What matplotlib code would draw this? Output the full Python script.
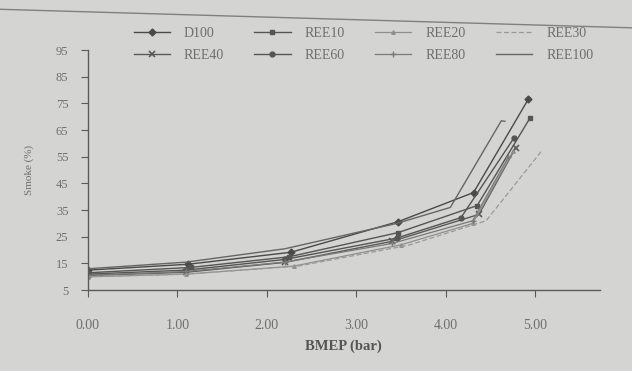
import matplotlib.pyplot as plt
from matplotlib.lines import Line2D

plt.rcParams['font.family'] = ['Liberation Serif', 'DejaVu Serif']

# BMEP (bar) and smoke (%) per fuel
x_d100 = [0.0, 1.12, 2.27, 3.47, 4.31, 4.92]
y_d100 = [12.5, 14.7, 19.2, 30.7, 41.6, 76.5]
x_ree10 = [0.0, 1.15, 2.25, 3.47, 4.35, 4.94]
y_ree10 = [11.5, 13.5, 17.5, 26.6, 36.7, 69.5]
x_ree20 = [0.0, 1.10, 2.30, 3.50, 4.30, 4.75]
y_ree20 = [10.0, 11.0, 14.0, 22.0, 30.0, 57.0]
x_ree30 = [0.0, 1.10, 2.35, 3.58, 4.45, 5.08]
y_ree30 = [10.0, 11.0, 14.0, 21.8, 31.0, 57.6]
x_ree40 = [0.0, 1.10, 2.20, 3.40, 4.37, 4.78]
y_ree40 = [10.5, 11.7, 15.4, 23.3, 33.4, 58.4]
x_ree60 = [0.0, 1.10, 2.20, 3.45, 4.17, 4.76]
y_ree60 = [11.0, 12.5, 16.5, 24.5, 32.2, 62.0]
x_ree80 = [0.0, 1.10, 2.20, 3.40, 4.30, 4.70]
y_ree80 = [10.5, 12.0, 15.5, 22.5, 31.0, 55.0]
x_ree100 = [0.0, 1.10, 2.20, 3.45, 4.05, 4.62, 4.66]
y_ree100 = [13.0, 15.5, 20.5, 30.0, 36.0, 68.5, 68.3]

x_ticks = [0, 1, 2, 3, 4, 5]
x_labels = ['0.00', '1.00', '2.00', '3.00', '4.00', '5.00']
y_ticks = [5, 15, 25, 35, 45, 55, 65, 75, 85, 95]

bg = '#d4d4d2'
ink = '#6e6e6e'

fig = plt.figure(figsize=(6.32, 3.71), dpi=100, facecolor=bg)
ax = fig.add_axes([0.139, 0.218, 0.81, 0.647], facecolor=bg)

# series: (label, x, y, style)
series = [
    ('D100', x_d100, y_d100, dict(color='#4a4a4a', marker='D', ms=3.5, lw=1.0)),
    ('REE40', x_ree40, y_ree40, dict(color='#5a5a5a', marker='x', ms=4, mew=1.2, lw=1.0)),
    ('REE10', x_ree10, y_ree10, dict(color='#555555', marker='s', ms=3.5, lw=1.0)),
    ('REE60', x_ree60, y_ree60, dict(color='#555555', marker='o', ms=3.5, lw=1.0)),
    ('REE20', x_ree20, y_ree20, dict(color='#8f8f8f', marker='^', ms=2.5, lw=0.9)),
    ('REE80', x_ree80, y_ree80, dict(color='#7a7a7a', marker='+', ms=4, lw=0.9)),
    ('REE30', x_ree30, y_ree30, dict(color='#9a9a9a', marker='', lw=0.9, ls=(0, (4, 2)))),
    ('REE100', x_ree100, y_ree100, dict(color='#666666', marker='', lw=1.0)),
]

handles = []
for name, xs, ys, st in series:
    ax.plot(xs, ys, **st)
    handles.append(Line2D([], [], label=name, **st))

ax.set_xlim(0, 5.72)
ax.set_ylim(5, 95)
ax.set_xticks(x_ticks)
ax.set_xticklabels(x_labels)
ax.set_yticks(y_ticks)

for s in ['top', 'right']:
    ax.spines[s].set_visible(False)
for s in ['left', 'bottom']:
    ax.spines[s].set_color('#5a5a5a')
    ax.spines[s].set_linewidth(1.0)

ax.tick_params(axis='x', colors='#5a5a5a', labelcolor=ink, labelsize=10, length=5, pad=16)
ax.tick_params(axis='y', colors='#5a5a5a', labelcolor=ink, labelsize=9, length=5, pad=9)

ax.set_xlabel('BMEP (bar)', fontsize=10.5, fontweight='bold', color='#555555', labelpad=5)
ax.set_ylabel('Smoke (%)', fontsize=8, color=ink, labelpad=16)

fig.legend(handles=handles, ncol=4, loc='upper center', bbox_to_anchor=(0.575, 0.962),
           frameon=False, fontsize=10, labelcolor=ink, handlelength=2.6,
           columnspacing=2.2, labelspacing=0.7, handletextpad=1.0)

# frame edge of the printed box
fig.add_artist(Line2D([0.0, 1.0], [0.975, 0.925], transform=fig.transFigure,
                      color='#808080', lw=1.0))

fig.savefig('out.png', dpi=100, facecolor=bg)
